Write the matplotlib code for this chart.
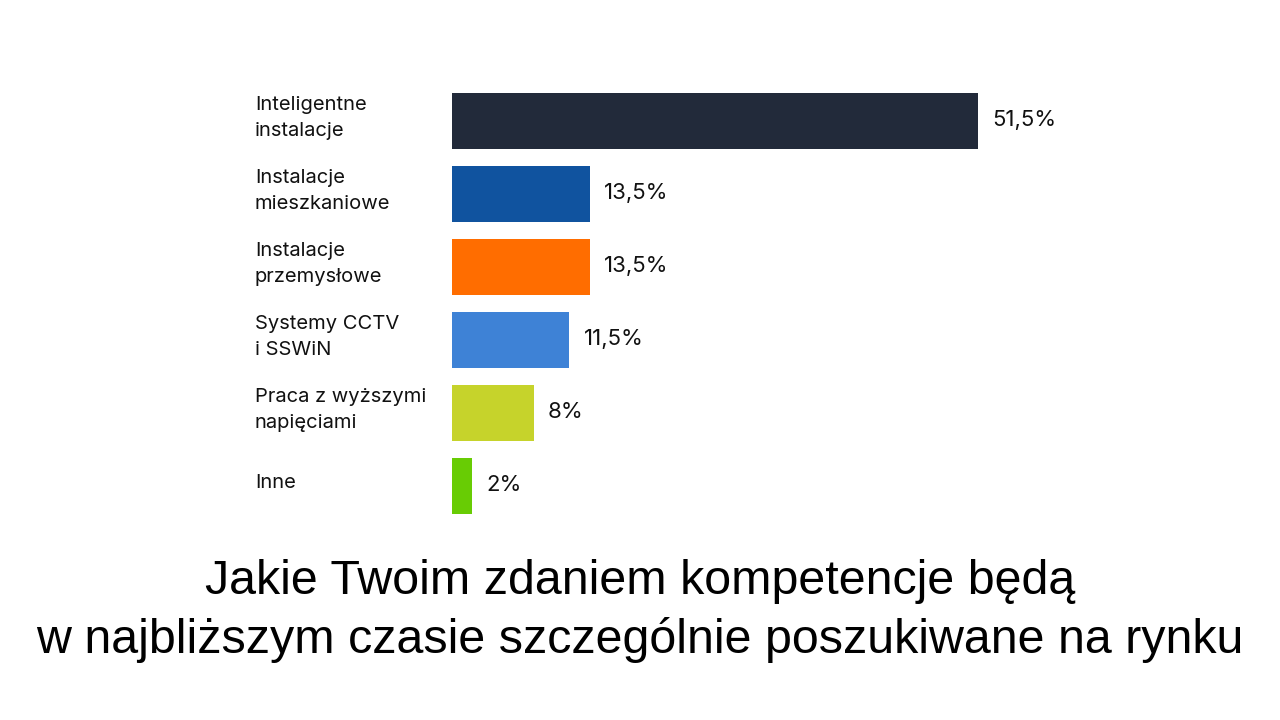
import matplotlib
matplotlib.use("Agg")
import matplotlib.pyplot as plt
from matplotlib.transforms import blended_transform_factory

categories = ["Inteligentne\ninstalacje", "Instalacje\nmieszkaniowe", "Instalacje\nprzemysłowe",
              "Systemy CCTV\ni SSWiN", "Praca z wyższymi\nnapięciami", "Inne"]
values = [51.5, 13.5, 13.5, 11.5, 8, 2]
value_labels = ["51,5%", "13,5%", "13,5%", "11,5%", "8%", "2%"]
colors = ["#222a3a", "#10539f", "#ff6d00", "#3e82d6", "#c6d32b", "#68cc04"]
title_lines = ["Jakie Twoim zdaniem kompetencje będą",
               "w najbliższym czasie szczególnie poszukiwane na rynku"]

W, H = 1280, 720
fig = plt.figure(figsize=(12.8, 7.2), dpi=100)
fig.patch.set_facecolor("white")

ax_left, ax_right, ax_top, ax_bottom = 452, 1100, 80, 530
ax = fig.add_axes([ax_left / W, 1 - ax_bottom / H, (ax_right - ax_left) / W, (ax_bottom - ax_top) / H])
ax.set_axis_off()

pos = list(range(len(categories)))
ax.barh(pos, values, height=0.77, color=colors)
ax.set_xlim(0, 51.5 * (ax_right - ax_left) / 526)
ax.set_ylim(5.603, -0.562)

label_font = "Inter"
for p, v, lbl in zip(pos, values, value_labels):
    ax.annotate(lbl, xy=(v, p), xytext=(14, 1), textcoords="offset pixels",
                va="center", ha="left", fontsize=16, color="#111111", family=label_font)

tr = blended_transform_factory(fig.transFigure, ax.transData)
for p, c in zip(pos, categories):
    ax.text(255 / W, p - 0.04, c, transform=tr, va="center", ha="left", fontsize=14.5,
            color="#111111", family=label_font, linespacing=1.55)

fig.text(0.5, 1 - 582 / H, title_lines[0], ha="center", va="center", fontsize=34.8,
         family="Liberation Sans", color="black")
fig.text(0.5, 1 - 640 / H, title_lines[1], ha="center", va="center", fontsize=34.8,
         family="Liberation Sans", color="black")

fig.savefig("out.png", dpi=100, facecolor="white")
